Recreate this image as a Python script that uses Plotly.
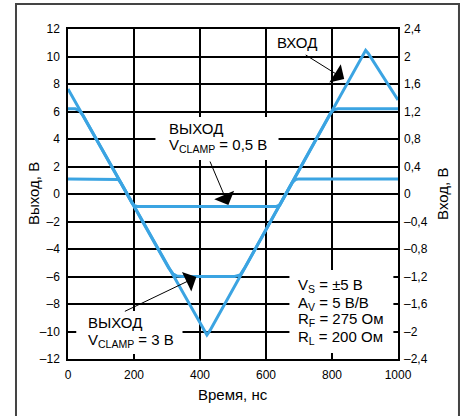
import plotly.graph_objects as go

# ---------------- data ----------------
time_input = [0, 412, 421, 430, 894, 902, 910, 1000]
input_v = [1.528, -1.99, -2.05, -1.988, 2.03, 2.09, 2.044, 1.368]

time_clamp3 = [0, 22, 34, 46, 305, 318, 330, 346, 505, 522, 535, 795, 805, 818, 1000]
out_clamp3 = [6.2, 6.2, 6.08, 5.68, -5.38, -5.8, -5.97, -6.0, -6.0, -5.88, -5.39, 5.86, 6.12, 6.2, 6.2]

time_clamp05 = [0, 142, 152, 160, 195, 202, 210, 632, 642, 650, 680, 690, 700, 1000]
out_clamp05 = [1.1, 1.1, 1.06, 0.81, -0.69, -0.86, -0.9, -0.9, -0.8, -0.46, 0.84, 1.06, 1.1, 1.1]

x_ticks = [0, 200, 400, 600, 800, 1000]
y_ticks = [-12, -10, -8, -6, -4, -2, 0, 2, 4, 6, 8, 10, 12]
y_tick_text = ["\u201312", "\u201310", "\u20138", "\u20136", "\u20134", "\u20132", "0", "2", "4", "6", "8", "10", "12"]
y2_ticks = [-2.4, -2.0, -1.6, -1.2, -0.8, -0.4, 0, 0.4, 0.8, 1.2, 1.6, 2.0, 2.4]
y2_tick_text = ["\u20132,4", "\u20132", "\u20131,6", "\u20131,2", "\u20130,8", "\u20130,4", "0",
                "0,4", "0,8", "1,2", "1,6", "2", "2,4"]

BLUE = "#3ba4e2"
FONT = "Arial, Liberation Sans, sans-serif"

fig = go.Figure()
fig.add_trace(go.Scatter(x=time_input, y=input_v, yaxis="y2", mode="lines",
                         line=dict(color=BLUE, width=3), showlegend=False))
fig.add_trace(go.Scatter(x=time_clamp3, y=out_clamp3, mode="lines",
                         line=dict(color=BLUE, width=3), showlegend=False))
fig.add_trace(go.Scatter(x=time_clamp05, y=out_clamp05, mode="lines",
                         line=dict(color=BLUE, width=3), showlegend=False))

shapes = []
# white boxes hiding grid behind labels
for x0, x1, y0, y1 in [(265, 638, 2.47, 5.6), (25, 347, -11.64, -8.51), (671, 986, -11.56, -5.53)]:
    shapes.append(dict(type="rect", xref="x", yref="y", x0=x0, x1=x1, y0=y0, y1=y1,
                       fillcolor="white", line=dict(width=0), layer="between"))
# outer frame
shapes.append(dict(type="rect", xref="paper", yref="paper", x0=-0.1576, x1=1.1848, y0=-0.25, y1=1.0758,
                   line=dict(color="#444444", width=2), fillcolor="rgba(0,0,0,0)", layer="above"))

tf = dict(family=FONT, size=15, color="black")
ann = []
def txt(x, y, t, anchor="left"):
    ann.append(dict(x=x, y=y, xref="x", yref="y", text=t, showarrow=False, xanchor=anchor,
                    yanchor="middle", font=tf, borderpad=0))

txt(695, 11.05, "ВХОД", "center")
txt(304, 4.73, "ВЫХОД")
txt(304, 3.56, "V<sub>CLAMP</sub> = 0,5 В")
txt(58, -9.38, "ВЫХОД")
txt(58, -10.62, "V<sub>CLAMP</sub> = 3 В")
txt(695, -6.62, "V<sub>S</sub> = ±5 В")
txt(695, -7.93, "A<sub>V</sub> = 5 В/В")
txt(695, -9.16, "R<sub>F</sub> = 275 Ом")
txt(695, -10.47, "R<sub>L</sub> = 200 Ом")

for x, y, ax, ay in [(486, -0.8, -19, -45), (837, 8.36, -40, -25), (389, -6.04, -73, 35)]:
    ann.append(dict(x=x, y=y, xref="x", yref="y", text="", showarrow=True, ax=ax, ay=ay,
                    arrowhead=1, arrowsize=3.6, arrowwidth=1, arrowcolor="black", standoff=0))

# axis titles
ann.append(dict(x=0.5, y=-0.109, xref="paper", yref="paper", text="Время, нс", showarrow=False,
                xanchor="center", yanchor="middle", font=tf))
ann.append(dict(x=-0.106, y=0.5, xref="paper", yref="paper", text="Выход, В", showarrow=False,
                textangle=-90, xanchor="center", yanchor="middle", font=tf))
ann.append(dict(x=1.133, y=0.5, xref="paper", yref="paper", text="Вход, В", showarrow=False,
                textangle=-90, xanchor="center", yanchor="middle", font=tf))

fig.update_layout(
    width=464, height=416,
    margin=dict(l=68, r=66, t=29, b=57),
    paper_bgcolor="white", plot_bgcolor="white",
    font=dict(family=FONT, size=12, color="black"),
    xaxis=dict(range=[0, 1000], tickvals=x_ticks, showgrid=True, gridcolor="black", gridwidth=1.5,
               showline=True, linecolor="black", linewidth=1.5, mirror=True, zeroline=False,
               ticks="", ticklabelstandoff=4, tickfont=dict(size=12)),
    yaxis=dict(range=[-12, 12], tickvals=y_ticks, ticktext=y_tick_text, showgrid=True,
               gridcolor="black", gridwidth=1.5, showline=True, linecolor="black", linewidth=1.5,
               mirror=True, zeroline=False, ticks="", ticklabelstandoff=4, tickfont=dict(size=12)),
    yaxis2=dict(range=[-2.4, 2.4], tickvals=y2_ticks, ticktext=y2_tick_text, overlaying="y",
                side="right", showgrid=False, zeroline=False, showline=False, ticks="",
                ticklabelstandoff=5, tickfont=dict(size=12)),
    shapes=shapes, annotations=ann,
)

fig.write_html("out.html")
